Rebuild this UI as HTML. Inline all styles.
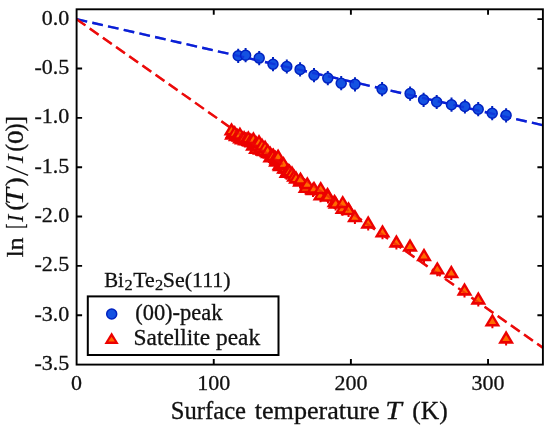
<!DOCTYPE html><html><head><meta charset="utf-8"><style>html,body{margin:0;padding:0;background:#fff;}svg{display:block;will-change:transform}text{font-family:"Liberation Serif",serif;fill:#111;stroke:#111;stroke-width:0.3px}</style></head><body>
<svg width="550" height="429" viewBox="0 0 550 429">
<rect x="0" y="0" width="550" height="429" fill="#fff"/>
<line x1="76.6" y1="19.17" x2="542.9" y2="125.2" stroke="#0a1fd6" stroke-width="2.4" stroke-dasharray="10.8 5.3"/><line x1="76.6" y1="19.17" x2="542.9" y2="347.8" stroke="#ec0a0a" stroke-width="2.4" stroke-dasharray="10.8 5.3"/>
<path d="M238.2 48.7V62.9 M245.6 48.1V62.3 M259.2 51.0V65.2 M273.0 57.1V71.3 M286.8 59.4V73.6 M300.1 62.3V76.5 M314.0 68.1V82.3 M327.8 71.0V85.2 M341.2 76.1V90.3 M355.0 77.2V91.4 M382.1 82.1V96.3 M410.1 86.5V100.7 M423.6 92.7V106.9 M436.7 94.9V109.1 M451.5 97.6V111.8 M464.9 99.4V113.6 M478.2 102.1V116.3 M492.2 106.1V120.3 M506.1 108.2V122.4" stroke="#0022c0" stroke-width="2" fill="none"/>
<path d="M232.0 133.0V141.4 M233.0 131.3V139.7 M236.0 134.5V142.9 M236.1 134.1V142.5 M239.2 135.2V143.6 M240.0 136.9V145.3 M242.3 137.2V145.6 M245.0 138.5V146.9 M245.4 138.6V147.0 M248.5 138.8V147.2 M250.0 140.0V148.4 M251.6 140.7V149.1 M253.0 144.0V152.4 M254.7 141.8V150.2 M256.0 147.3V155.7 M257.8 144.4V152.8 M260.0 148.2V156.6 M260.9 146.7V155.1 M264.0 148.7V157.1 M264.0 149.5V157.9 M267.1 150.7V159.1 M268.0 151.5V159.9 M270.2 152.2V160.6 M272.0 155.0V163.4 M273.3 154.2V162.6 M276.0 160.0V168.4 M276.4 157.8V166.2 M279.5 163.6V172.0 M280.0 164.5V172.9 M282.6 163.6V172.0 M284.0 167.0V175.4 M285.7 167.1V175.5 M288.0 169.5V177.9 M288.8 170.0V178.4 M231.5 128.9V137.3 M234.7 131.7V140.1 M237.3 134.3V142.8 M239.9 133.2V141.6 M242.0 137.8V146.2 M244.1 136.6V145.0 M246.2 138.0V146.4 M248.3 136.8V145.2 M250.9 139.2V147.6 M253.4 138.0V146.4 M256.2 141.9V150.3 M259.0 140.8V149.2 M262.0 144.2V152.6 M265.1 146.2V154.7 M267.7 149.7V158.1 M270.3 155.9V164.3 M272.9 154.8V163.2 M275.5 156.4V164.8 M278.1 155.2V163.7 M280.8 163.8V172.2 M283.5 162.7V171.1 M286.5 171.2V179.7 M289.5 170.1V178.5 M292.0 172.0V180.4 M294.0 175.2V183.6 M296.0 177.0V185.4 M300.0 180.0V188.4 M300.5 178.1V186.5 M305.6 186.4V194.8 M307.3 182.8V191.2 M313.0 188.7V197.1 M314.0 187.3V195.7 M320.5 193.8V202.2 M320.7 187.6V196.0 M327.5 193.5V201.9 M328.0 195.2V203.6 M334.5 200.5V208.9 M335.6 202.2V210.6 M342.5 207.3V215.7 M342.7 201.6V210.0 M348.5 208.0V216.4 M348.6 208.7V217.1 M354.9 215.7V224.1 M368.2 222.0V230.4 M382.5 230.9V239.3 M396.4 241.0V249.4 M410.0 245.0V253.4 M424.0 254.5V262.9 M437.3 267.8V276.2 M451.3 271.5V279.9 M464.5 289.0V297.4 M478.3 298.0V306.4 M492.4 319.9V328.3 M506.1 337.0V345.4" stroke="#ec0000" stroke-width="2" fill="none"/>
<circle cx="238.2" cy="55.8" r="5.0" fill="#1452e2" stroke="#0022c0" stroke-width="1.5"/>
<circle cx="245.6" cy="55.2" r="5.0" fill="#1452e2" stroke="#0022c0" stroke-width="1.5"/>
<circle cx="259.2" cy="58.1" r="5.0" fill="#1452e2" stroke="#0022c0" stroke-width="1.5"/>
<circle cx="273.0" cy="64.2" r="5.0" fill="#1452e2" stroke="#0022c0" stroke-width="1.5"/>
<circle cx="286.8" cy="66.5" r="5.0" fill="#1452e2" stroke="#0022c0" stroke-width="1.5"/>
<circle cx="300.1" cy="69.4" r="5.0" fill="#1452e2" stroke="#0022c0" stroke-width="1.5"/>
<circle cx="314.0" cy="75.2" r="5.0" fill="#1452e2" stroke="#0022c0" stroke-width="1.5"/>
<circle cx="327.8" cy="78.1" r="5.0" fill="#1452e2" stroke="#0022c0" stroke-width="1.5"/>
<circle cx="341.2" cy="83.2" r="5.0" fill="#1452e2" stroke="#0022c0" stroke-width="1.5"/>
<circle cx="355.0" cy="84.3" r="5.0" fill="#1452e2" stroke="#0022c0" stroke-width="1.5"/>
<circle cx="382.1" cy="89.2" r="5.0" fill="#1452e2" stroke="#0022c0" stroke-width="1.5"/>
<circle cx="410.1" cy="93.6" r="5.0" fill="#1452e2" stroke="#0022c0" stroke-width="1.5"/>
<circle cx="423.6" cy="99.8" r="5.0" fill="#1452e2" stroke="#0022c0" stroke-width="1.5"/>
<circle cx="436.7" cy="102.0" r="5.0" fill="#1452e2" stroke="#0022c0" stroke-width="1.5"/>
<circle cx="451.5" cy="104.7" r="5.0" fill="#1452e2" stroke="#0022c0" stroke-width="1.5"/>
<circle cx="464.9" cy="106.5" r="5.0" fill="#1452e2" stroke="#0022c0" stroke-width="1.5"/>
<circle cx="478.2" cy="109.2" r="5.0" fill="#1452e2" stroke="#0022c0" stroke-width="1.5"/>
<circle cx="492.2" cy="113.2" r="5.0" fill="#1452e2" stroke="#0022c0" stroke-width="1.5"/>
<circle cx="506.1" cy="115.3" r="5.0" fill="#1452e2" stroke="#0022c0" stroke-width="1.5"/>
<path d="M232.00 126.35L224.05 139.65L239.95 139.65Z" fill="#ec0000"/><path d="M232.00 130.95L228.30 137.05L235.70 137.05Z" fill="#ff6a00"/>
<path d="M233.00 124.66L225.05 137.96L240.95 137.96Z" fill="#ec0000"/><path d="M233.00 129.26L229.30 135.36L236.70 135.36Z" fill="#ff6a00"/>
<path d="M236.00 127.85L228.05 141.15L243.95 141.15Z" fill="#ec0000"/><path d="M236.00 132.45L232.30 138.55L239.70 138.55Z" fill="#ff6a00"/>
<path d="M236.10 127.47L228.15 140.77L244.05 140.77Z" fill="#ec0000"/><path d="M236.10 132.07L232.40 138.17L239.80 138.17Z" fill="#ff6a00"/>
<path d="M239.20 128.53L231.25 141.83L247.15 141.83Z" fill="#ec0000"/><path d="M239.20 133.13L235.50 139.23L242.90 139.23Z" fill="#ff6a00"/>
<path d="M240.00 130.25L232.05 143.55L247.95 143.55Z" fill="#ec0000"/><path d="M240.00 134.85L236.30 140.95L243.70 140.95Z" fill="#ff6a00"/>
<path d="M242.30 130.56L234.35 143.86L250.25 143.86Z" fill="#ec0000"/><path d="M242.30 135.16L238.60 141.26L246.00 141.26Z" fill="#ff6a00"/>
<path d="M245.00 131.85L237.05 145.15L252.95 145.15Z" fill="#ec0000"/><path d="M245.00 136.45L241.30 142.55L248.70 142.55Z" fill="#ff6a00"/>
<path d="M245.40 131.94L237.45 145.24L253.35 145.24Z" fill="#ec0000"/><path d="M245.40 136.54L241.70 142.64L249.10 142.64Z" fill="#ff6a00"/>
<path d="M248.50 132.15L240.55 145.45L256.45 145.45Z" fill="#ec0000"/><path d="M248.50 136.75L244.80 142.85L252.20 142.85Z" fill="#ff6a00"/>
<path d="M250.00 133.35L242.05 146.65L257.95 146.65Z" fill="#ec0000"/><path d="M250.00 137.95L246.30 144.05L253.70 144.05Z" fill="#ff6a00"/>
<path d="M251.60 134.10L243.65 147.40L259.55 147.40Z" fill="#ec0000"/><path d="M251.60 138.70L247.90 144.80L255.30 144.80Z" fill="#ff6a00"/>
<path d="M253.00 137.35L245.05 150.65L260.95 150.65Z" fill="#ec0000"/><path d="M253.00 141.95L249.30 148.05L256.70 148.05Z" fill="#ff6a00"/>
<path d="M254.70 135.14L246.75 148.44L262.65 148.44Z" fill="#ec0000"/><path d="M254.70 139.74L251.00 145.84L258.40 145.84Z" fill="#ff6a00"/>
<path d="M256.00 140.65L248.05 153.95L263.95 153.95Z" fill="#ec0000"/><path d="M256.00 145.25L252.30 151.35L259.70 151.35Z" fill="#ff6a00"/>
<path d="M257.80 137.72L249.85 151.02L265.75 151.02Z" fill="#ec0000"/><path d="M257.80 142.32L254.10 148.42L261.50 148.42Z" fill="#ff6a00"/>
<path d="M260.00 141.55L252.05 154.85L267.95 154.85Z" fill="#ec0000"/><path d="M260.00 146.15L256.30 152.25L263.70 152.25Z" fill="#ff6a00"/>
<path d="M260.90 140.02L252.95 153.32L268.85 153.32Z" fill="#ec0000"/><path d="M260.90 144.62L257.20 150.72L264.60 150.72Z" fill="#ff6a00"/>
<path d="M264.00 142.02L256.05 155.32L271.95 155.32Z" fill="#ec0000"/><path d="M264.00 146.62L260.30 152.72L267.70 152.72Z" fill="#ff6a00"/>
<path d="M264.00 142.85L256.05 156.15L271.95 156.15Z" fill="#ec0000"/><path d="M264.00 147.45L260.30 153.55L267.70 153.55Z" fill="#ff6a00"/>
<path d="M267.10 144.01L259.15 157.31L275.05 157.31Z" fill="#ec0000"/><path d="M267.10 148.61L263.40 154.71L270.80 154.71Z" fill="#ff6a00"/>
<path d="M268.00 144.85L260.05 158.15L275.95 158.15Z" fill="#ec0000"/><path d="M268.00 149.45L264.30 155.55L271.70 155.55Z" fill="#ff6a00"/>
<path d="M270.20 145.52L262.25 158.82L278.15 158.82Z" fill="#ec0000"/><path d="M270.20 150.12L266.50 156.22L273.90 156.22Z" fill="#ff6a00"/>
<path d="M272.00 148.35L264.05 161.65L279.95 161.65Z" fill="#ec0000"/><path d="M272.00 152.95L268.30 159.05L275.70 159.05Z" fill="#ff6a00"/>
<path d="M273.30 147.56L265.35 160.86L281.25 160.86Z" fill="#ec0000"/><path d="M273.30 152.16L269.60 158.26L277.00 158.26Z" fill="#ff6a00"/>
<path d="M276.00 153.35L268.05 166.65L283.95 166.65Z" fill="#ec0000"/><path d="M276.00 157.95L272.30 164.05L279.70 164.05Z" fill="#ff6a00"/>
<path d="M276.40 151.14L268.45 164.44L284.35 164.44Z" fill="#ec0000"/><path d="M276.40 155.74L272.70 161.84L280.10 161.84Z" fill="#ff6a00"/>
<path d="M279.50 156.91L271.55 170.21L287.45 170.21Z" fill="#ec0000"/><path d="M279.50 161.51L275.80 167.61L283.20 167.61Z" fill="#ff6a00"/>
<path d="M280.00 157.85L272.05 171.15L287.95 171.15Z" fill="#ec0000"/><path d="M280.00 162.45L276.30 168.55L283.70 168.55Z" fill="#ff6a00"/>
<path d="M282.60 156.99L274.65 170.29L290.55 170.29Z" fill="#ec0000"/><path d="M282.60 161.59L278.90 167.69L286.30 167.69Z" fill="#ff6a00"/>
<path d="M284.00 160.35L276.05 173.65L291.95 173.65Z" fill="#ec0000"/><path d="M284.00 164.95L280.30 171.05L287.70 171.05Z" fill="#ff6a00"/>
<path d="M285.70 160.40L277.75 173.70L293.65 173.70Z" fill="#ec0000"/><path d="M285.70 165.00L282.00 171.10L289.40 171.10Z" fill="#ff6a00"/>
<path d="M288.00 162.85L280.05 176.15L295.95 176.15Z" fill="#ec0000"/><path d="M288.00 167.45L284.30 173.55L291.70 173.55Z" fill="#ff6a00"/>
<path d="M288.80 163.32L280.85 176.62L296.75 176.62Z" fill="#ec0000"/><path d="M288.80 167.92L285.10 174.02L292.50 174.02Z" fill="#ff6a00"/>
<path d="M231.50 122.30L223.55 135.60L239.45 135.60Z" fill="#ec0000"/><path d="M231.50 126.90L227.80 133.00L235.20 133.00Z" fill="#ff6a00"/>
<path d="M234.70 125.00L226.75 138.30L242.65 138.30Z" fill="#ec0000"/><path d="M234.70 129.60L231.00 135.70L238.40 135.70Z" fill="#ff6a00"/>
<path d="M237.30 127.70L229.35 141.00L245.25 141.00Z" fill="#ec0000"/><path d="M237.30 132.30L233.60 138.40L241.00 138.40Z" fill="#ff6a00"/>
<path d="M239.90 126.50L231.95 139.80L247.85 139.80Z" fill="#ec0000"/><path d="M239.90 131.10L236.20 137.20L243.60 137.20Z" fill="#ff6a00"/>
<path d="M242.00 131.10L234.05 144.40L249.95 144.40Z" fill="#ec0000"/><path d="M242.00 135.70L238.30 141.80L245.70 141.80Z" fill="#ff6a00"/>
<path d="M244.10 129.90L236.15 143.20L252.05 143.20Z" fill="#ec0000"/><path d="M244.10 134.50L240.40 140.60L247.80 140.60Z" fill="#ff6a00"/>
<path d="M246.20 131.40L238.25 144.70L254.15 144.70Z" fill="#ec0000"/><path d="M246.20 136.00L242.50 142.10L249.90 142.10Z" fill="#ff6a00"/>
<path d="M248.30 130.20L240.35 143.50L256.25 143.50Z" fill="#ec0000"/><path d="M248.30 134.80L244.60 140.90L252.00 140.90Z" fill="#ff6a00"/>
<path d="M250.85 132.50L242.90 145.80L258.80 145.80Z" fill="#ec0000"/><path d="M250.85 137.10L247.15 143.20L254.55 143.20Z" fill="#ff6a00"/>
<path d="M253.40 131.30L245.45 144.60L261.35 144.60Z" fill="#ec0000"/><path d="M253.40 135.90L249.70 142.00L257.10 142.00Z" fill="#ff6a00"/>
<path d="M256.20 135.30L248.25 148.60L264.15 148.60Z" fill="#ec0000"/><path d="M256.20 139.90L252.50 146.00L259.90 146.00Z" fill="#ff6a00"/>
<path d="M259.00 134.10L251.05 147.40L266.95 147.40Z" fill="#ec0000"/><path d="M259.00 138.70L255.30 144.80L262.70 144.80Z" fill="#ff6a00"/>
<path d="M262.00 137.50L254.05 150.80L269.95 150.80Z" fill="#ec0000"/><path d="M262.00 142.10L258.30 148.20L265.70 148.20Z" fill="#ff6a00"/>
<path d="M265.10 139.60L257.15 152.90L273.05 152.90Z" fill="#ec0000"/><path d="M265.10 144.20L261.40 150.30L268.80 150.30Z" fill="#ff6a00"/>
<path d="M267.70 143.00L259.75 156.30L275.65 156.30Z" fill="#ec0000"/><path d="M267.70 147.60L264.00 153.70L271.40 153.70Z" fill="#ff6a00"/>
<path d="M270.30 149.30L262.35 162.60L278.25 162.60Z" fill="#ec0000"/><path d="M270.30 153.90L266.60 160.00L274.00 160.00Z" fill="#ff6a00"/>
<path d="M272.90 148.10L264.95 161.40L280.85 161.40Z" fill="#ec0000"/><path d="M272.90 152.70L269.20 158.80L276.60 158.80Z" fill="#ff6a00"/>
<path d="M275.50 149.80L267.55 163.10L283.45 163.10Z" fill="#ec0000"/><path d="M275.50 154.40L271.80 160.50L279.20 160.50Z" fill="#ff6a00"/>
<path d="M278.10 148.60L270.15 161.90L286.05 161.90Z" fill="#ec0000"/><path d="M278.10 153.20L274.40 159.30L281.80 159.30Z" fill="#ff6a00"/>
<path d="M280.80 157.20L272.85 170.50L288.75 170.50Z" fill="#ec0000"/><path d="M280.80 161.80L277.10 167.90L284.50 167.90Z" fill="#ff6a00"/>
<path d="M283.50 156.00L275.55 169.30L291.45 169.30Z" fill="#ec0000"/><path d="M283.50 160.60L279.80 166.70L287.20 166.70Z" fill="#ff6a00"/>
<path d="M286.50 164.60L278.55 177.90L294.45 177.90Z" fill="#ec0000"/><path d="M286.50 169.20L282.80 175.30L290.20 175.30Z" fill="#ff6a00"/>
<path d="M289.50 163.40L281.55 176.70L297.45 176.70Z" fill="#ec0000"/><path d="M289.50 168.00L285.80 174.10L293.20 174.10Z" fill="#ff6a00"/>
<path d="M292.00 165.35L284.05 178.65L299.95 178.65Z" fill="#ec0000"/><path d="M292.00 169.95L288.30 176.05L295.70 176.05Z" fill="#ff6a00"/>
<path d="M294.00 168.55L286.05 181.85L301.95 181.85Z" fill="#ec0000"/><path d="M294.00 173.15L290.30 179.25L297.70 179.25Z" fill="#ff6a00"/>
<path d="M296.00 170.35L288.05 183.65L303.95 183.65Z" fill="#ec0000"/><path d="M296.00 174.95L292.30 181.05L299.70 181.05Z" fill="#ff6a00"/>
<path d="M300.00 173.35L292.05 186.65L307.95 186.65Z" fill="#ec0000"/><path d="M300.00 177.95L296.30 184.05L303.70 184.05Z" fill="#ff6a00"/>
<path d="M300.50 171.45L292.55 184.75L308.45 184.75Z" fill="#ec0000"/><path d="M300.50 176.05L296.80 182.15L304.20 182.15Z" fill="#ff6a00"/>
<path d="M305.60 179.75L297.65 193.05L313.55 193.05Z" fill="#ec0000"/><path d="M305.60 184.35L301.90 190.45L309.30 190.45Z" fill="#ff6a00"/>
<path d="M307.30 176.15L299.35 189.45L315.25 189.45Z" fill="#ec0000"/><path d="M307.30 180.75L303.60 186.85L311.00 186.85Z" fill="#ff6a00"/>
<path d="M313.00 182.05L305.05 195.35L320.95 195.35Z" fill="#ec0000"/><path d="M313.00 186.65L309.30 192.75L316.70 192.75Z" fill="#ff6a00"/>
<path d="M314.00 180.65L306.05 193.95L321.95 193.95Z" fill="#ec0000"/><path d="M314.00 185.25L310.30 191.35L317.70 191.35Z" fill="#ff6a00"/>
<path d="M320.50 187.15L312.55 200.45L328.45 200.45Z" fill="#ec0000"/><path d="M320.50 191.75L316.80 197.85L324.20 197.85Z" fill="#ff6a00"/>
<path d="M320.70 180.95L312.75 194.25L328.65 194.25Z" fill="#ec0000"/><path d="M320.70 185.55L317.00 191.65L324.40 191.65Z" fill="#ff6a00"/>
<path d="M327.50 186.85L319.55 200.15L335.45 200.15Z" fill="#ec0000"/><path d="M327.50 191.45L323.80 197.55L331.20 197.55Z" fill="#ff6a00"/>
<path d="M328.00 188.55L320.05 201.85L335.95 201.85Z" fill="#ec0000"/><path d="M328.00 193.15L324.30 199.25L331.70 199.25Z" fill="#ff6a00"/>
<path d="M334.50 193.85L326.55 207.15L342.45 207.15Z" fill="#ec0000"/><path d="M334.50 198.45L330.80 204.55L338.20 204.55Z" fill="#ff6a00"/>
<path d="M335.60 195.55L327.65 208.85L343.55 208.85Z" fill="#ec0000"/><path d="M335.60 200.15L331.90 206.25L339.30 206.25Z" fill="#ff6a00"/>
<path d="M342.50 200.65L334.55 213.95L350.45 213.95Z" fill="#ec0000"/><path d="M342.50 205.25L338.80 211.35L346.20 211.35Z" fill="#ff6a00"/>
<path d="M342.70 194.95L334.75 208.25L350.65 208.25Z" fill="#ec0000"/><path d="M342.70 199.55L339.00 205.65L346.40 205.65Z" fill="#ff6a00"/>
<path d="M348.50 201.35L340.55 214.65L356.45 214.65Z" fill="#ec0000"/><path d="M348.50 205.95L344.80 212.05L352.20 212.05Z" fill="#ff6a00"/>
<path d="M348.60 202.05L340.65 215.35L356.55 215.35Z" fill="#ec0000"/><path d="M348.60 206.65L344.90 212.75L352.30 212.75Z" fill="#ff6a00"/>
<path d="M354.90 209.05L346.95 222.35L362.85 222.35Z" fill="#ec0000"/><path d="M354.90 213.65L351.20 219.75L358.60 219.75Z" fill="#ff6a00"/>
<path d="M368.20 215.35L360.25 228.65L376.15 228.65Z" fill="#ec0000"/><path d="M368.20 219.95L364.50 226.05L371.90 226.05Z" fill="#ff6a00"/>
<path d="M382.50 224.25L374.55 237.55L390.45 237.55Z" fill="#ec0000"/><path d="M382.50 228.85L378.80 234.95L386.20 234.95Z" fill="#ff6a00"/>
<path d="M396.40 234.35L388.45 247.65L404.35 247.65Z" fill="#ec0000"/><path d="M396.40 238.95L392.70 245.05L400.10 245.05Z" fill="#ff6a00"/>
<path d="M410.00 238.35L402.05 251.65L417.95 251.65Z" fill="#ec0000"/><path d="M410.00 242.95L406.30 249.05L413.70 249.05Z" fill="#ff6a00"/>
<path d="M424.00 247.85L416.05 261.15L431.95 261.15Z" fill="#ec0000"/><path d="M424.00 252.45L420.30 258.55L427.70 258.55Z" fill="#ff6a00"/>
<path d="M437.30 261.15L429.35 274.45L445.25 274.45Z" fill="#ec0000"/><path d="M437.30 265.75L433.60 271.85L441.00 271.85Z" fill="#ff6a00"/>
<path d="M451.30 264.85L443.35 278.15L459.25 278.15Z" fill="#ec0000"/><path d="M451.30 269.45L447.60 275.55L455.00 275.55Z" fill="#ff6a00"/>
<path d="M464.50 282.35L456.55 295.65L472.45 295.65Z" fill="#ec0000"/><path d="M464.50 286.95L460.80 293.05L468.20 293.05Z" fill="#ff6a00"/>
<path d="M478.30 291.35L470.35 304.65L486.25 304.65Z" fill="#ec0000"/><path d="M478.30 295.95L474.60 302.05L482.00 302.05Z" fill="#ff6a00"/>
<path d="M492.40 313.25L484.45 326.55L500.35 326.55Z" fill="#ec0000"/><path d="M492.40 317.85L488.70 323.95L496.10 323.95Z" fill="#ff6a00"/>
<path d="M506.10 330.35L498.15 343.65L514.05 343.65Z" fill="#ec0000"/><path d="M506.10 334.95L502.40 341.05L509.80 341.05Z" fill="#ff6a00"/>
<g opacity="0.5"><line x1="76.6" y1="19.17" x2="542.9" y2="125.2" stroke="#0a1fd6" stroke-width="2.4" stroke-dasharray="10.8 5.3"/><line x1="76.6" y1="19.17" x2="542.9" y2="347.8" stroke="#ec0a0a" stroke-width="2.4" stroke-dasharray="10.8 5.3"/></g>
<rect x="76.6" y="9.3" width="466.3" height="355.3" fill="none" stroke="#000" stroke-width="1.9"/>
<path d="M213.75 364.6V359.1 M213.75 9.3V14.8 M350.89 364.6V359.1 M350.89 9.3V14.8 M488.04 364.6V359.1 M488.04 9.3V14.8 M542.9 19.17H537.4 M76.6 68.52H82.1 M542.9 68.52H537.4 M76.6 117.86H82.1 M542.9 117.86H537.4 M76.6 167.21H82.1 M542.9 167.21H537.4 M76.6 216.56H82.1 M542.9 216.56H537.4 M76.6 265.91H82.1 M542.9 265.91H537.4 M76.6 315.25H82.1 M542.9 315.25H537.4" stroke="#000" stroke-width="1.9" fill="none"/>
<text x="69.3" y="24.67" font-size="22" text-anchor="end">0.0</text>
<text x="69.3" y="74.02" font-size="22" text-anchor="end">-0.5</text>
<text x="69.3" y="123.36" font-size="22" text-anchor="end">-1.0</text>
<text x="69.3" y="172.71" font-size="22" text-anchor="end">-1.5</text>
<text x="69.3" y="222.06" font-size="22" text-anchor="end">-2.0</text>
<text x="69.3" y="271.41" font-size="22" text-anchor="end">-2.5</text>
<text x="69.3" y="320.75" font-size="22" text-anchor="end">-3.0</text>
<text x="69.3" y="370.10" font-size="22" text-anchor="end">-3.5</text>
<text x="76.60" y="390" font-size="22" text-anchor="middle">0</text>
<text x="213.75" y="390" font-size="22" text-anchor="middle">100</text>
<text x="350.89" y="390" font-size="22" text-anchor="middle">200</text>
<text x="488.04" y="390" font-size="22" text-anchor="middle">300</text>
<text x="385.3" y="419" font-size="24.5" font-style="italic" textLength="16.5" lengthAdjust="spacingAndGlyphs">T</text>
<text x="412.3" y="419" font-size="24.5" textLength="35.5" lengthAdjust="spacingAndGlyphs">(K)</text>
<line x1="6.3" y1="166.4" x2="28.1" y2="175.3" stroke="#111" stroke-width="1.35"/>
<rect x="87.8" y="296.4" width="190.7" height="58.6" fill="#fff" stroke="#000" stroke-width="2"/>
<circle cx="111.7" cy="314" r="5.0" fill="#1452e2" stroke="#0022c0" stroke-width="1.5"/>
<path d="M111.60 332.20L104.45 344.00L118.75 344.00Z" fill="#ec0000"/><path d="M111.60 336.80L108.30 341.40L114.90 341.40Z" fill="#ff6a00"/>
<text x="170.77" y="419" font-size="24.5" textLength="75.26" lengthAdjust="spacingAndGlyphs">Surface</text>
<text x="254.73" y="419" font-size="24.5" textLength="124.79" lengthAdjust="spacingAndGlyphs">temperature</text>
<g transform="translate(22.7,0) rotate(-90)"><text x="-257.26" y="0" font-size="23" textLength="19.89" lengthAdjust="spacingAndGlyphs">ln</text></g>
<g transform="translate(22.7,0) rotate(-90)"><text x="-228.79" y="0" font-size="24.5" textLength="5.16" lengthAdjust="spacingAndGlyphs">[</text></g>
<g transform="translate(22.7,0) rotate(-90)"><text x="-221.88" y="0" font-size="23.5" font-style="italic" style="stroke-width:0.1px" textLength="7.41" lengthAdjust="spacingAndGlyphs">I</text></g>
<g transform="translate(22.7,0) rotate(-90)"><text x="-210.55" y="0" font-size="24.5" textLength="8.36" lengthAdjust="spacingAndGlyphs">(</text></g>
<g transform="translate(22.7,0) rotate(-90)"><text x="-204.97" y="0" font-size="25" font-style="italic" style="stroke-width:0.1px" textLength="16.89" lengthAdjust="spacingAndGlyphs">T</text></g>
<g transform="translate(22.7,0) rotate(-90)"><text x="-186.32" y="0" font-size="24.5" textLength="8.96" lengthAdjust="spacingAndGlyphs">)</text></g>
<g transform="translate(22.7,0) rotate(-90)"><text x="-163.16" y="0" font-size="23.5" font-style="italic" style="stroke-width:0.1px" textLength="8.73" lengthAdjust="spacingAndGlyphs">I</text></g>
<g transform="translate(22.7,0) rotate(-90)"><text x="-151.54" y="0" font-size="24.5" textLength="7.57" lengthAdjust="spacingAndGlyphs">(</text></g>
<g transform="translate(22.7,0) rotate(-90)"><text x="-144.03" y="0" font-size="23" textLength="13.56" lengthAdjust="spacingAndGlyphs">0</text></g>
<g transform="translate(22.7,0) rotate(-90)"><text x="-131.21" y="0" font-size="24.5" textLength="7.68" lengthAdjust="spacingAndGlyphs">)</text></g>
<g transform="translate(22.7,0) rotate(-90)"><text x="-124.39" y="0" font-size="24.5" textLength="8.31" lengthAdjust="spacingAndGlyphs">]</text></g>
<text x="104.21" y="287.1" font-size="22" textLength="19.68" lengthAdjust="spacingAndGlyphs">Bi</text>
<text x="124.44" y="290.3" font-size="15.5" textLength="8.18" lengthAdjust="spacingAndGlyphs">2</text>
<text x="133.23" y="287.1" font-size="22" textLength="21.46" lengthAdjust="spacingAndGlyphs">Te</text>
<text x="155.14" y="290.3" font-size="15.5" textLength="8.18" lengthAdjust="spacingAndGlyphs">2</text>
<text x="162.80" y="287.1" font-size="22" textLength="67.81" lengthAdjust="spacingAndGlyphs">Se(111)</text>
<text x="135.20" y="319.5" font-size="22.5" textLength="87.27" lengthAdjust="spacingAndGlyphs">(00)-peak</text>
<text x="133.54" y="345.0" font-size="22.5" textLength="126.54" lengthAdjust="spacingAndGlyphs">Satellite peak</text>
</svg></body></html>
